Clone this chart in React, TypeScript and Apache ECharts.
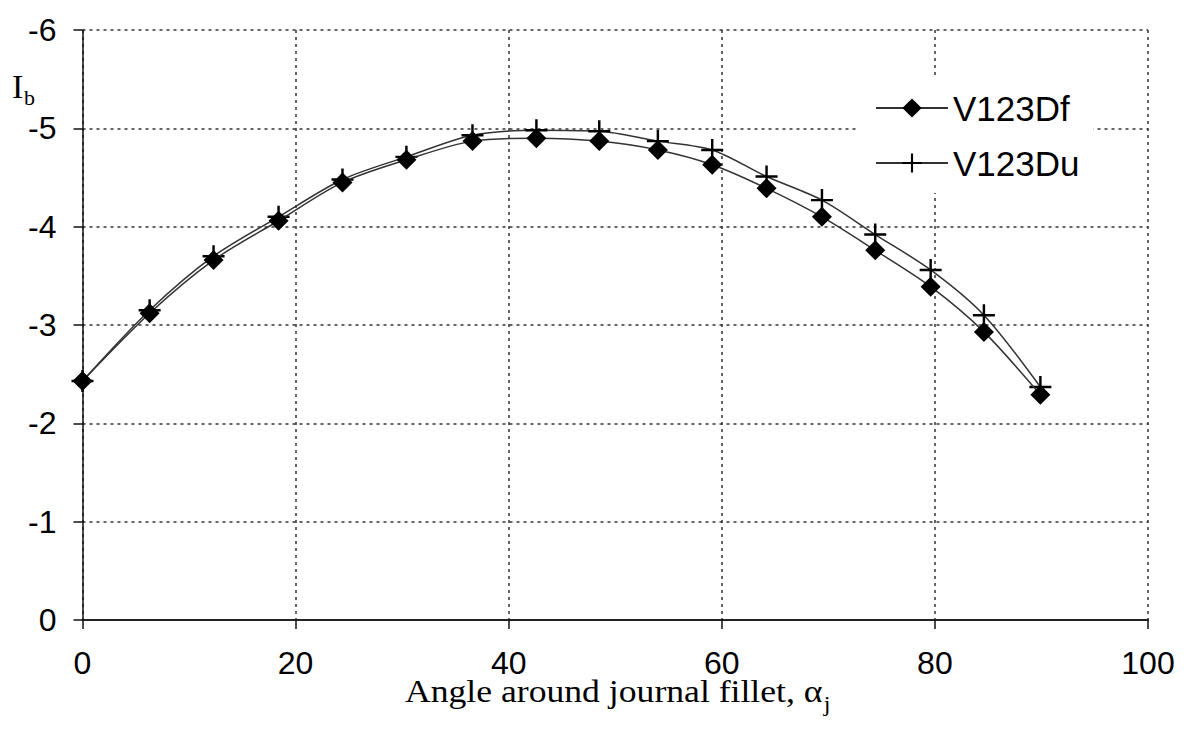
import React, { useEffect, useRef } from "react";
import * as echarts from "echarts";

const angles = [0, 6.3, 12.3, 18.4, 24.4, 30.4, 36.6, 42.6, 48.5, 54, 59.1, 64.2, 69.4, 74.4, 79.6, 84.6, 89.9];
const v123Df = [-2.43, -3.12, -3.66, -4.06, -4.45, -4.68, -4.87, -4.9, -4.87, -4.78, -4.63, -4.39, -4.1, -3.76, -3.39, -2.93, -2.29];
const v123Du = [-2.43, -3.15, -3.7, -4.1, -4.48, -4.71, -4.93, -4.98, -4.97, -4.87, -4.78, -4.51, -4.27, -3.92, -3.56, -3.1, -2.37];
const seriesNames = ["V123Df", "V123Du"];
const xTitle = "Angle around journal fillet, α";
const xTitleSub = "j";
const yTitle = "I";
const yTitleSub = "b";

const PLUS = "path://M8,0H10V8H18V10H10V18H8V10H0V8H8Z";

function measure(text: string, font: string): number {
  const c = document.createElement("canvas").getContext("2d");
  if (!c) return text.length * 12;
  c.font = font;
  return c.measureText(text).width;
}

export default function App() {
  const ref = useRef<HTMLDivElement>(null);
  useEffect(() => {
    document.body.style.margin = "0";
    if (!ref.current) return;
    const chart = echarts.init(ref.current, undefined, { renderer: "svg" });
    const serif = "Liberation Serif";
    const sans = "Liberation Sans";
    const titleFs = 31;
    const titleW = measure(xTitle, `${titleFs}px "${serif}"`);
    const stretch = 1.15;
    const titleX = 405;
    const titleY = 707;
    chart.setOption({
      animation: false,
      backgroundColor: "#ffffff",
      grid: { left: 82.5, right: 39, top: 30, bottom: 114, containLabel: false },
      xAxis: {
        type: "value",
        min: 0,
        max: 100,
        interval: 20,
        axisLine: { show: true, onZero: false, lineStyle: { color: "#222", width: 2 } },
        axisTick: { show: true, length: 9, lineStyle: { color: "#111", width: 1.5 } },
        axisLabel: { color: "#000", fontSize: 32, fontFamily: sans, margin: 27 },
        splitLine: { show: true, lineStyle: { color: "#333", width: 1.5, type: [3, 4] } },
      },
      yAxis: {
        type: "value",
        min: -6,
        max: 0,
        interval: 1,
        inverse: true,
        axisLine: { show: true, onZero: false, lineStyle: { color: "#111", width: 1.5 } },
        axisTick: { show: true, length: 9, lineStyle: { color: "#111", width: 1.5 } },
        axisLabel: { color: "#000", fontSize: 32, fontFamily: sans, margin: 26 },
        splitLine: { show: true, lineStyle: { color: "#333", width: 1.5, type: [3, 4] } },
      },
      legend: {
        orient: "vertical",
        left: 857,
        top: 75,
        backgroundColor: "#ffffff",
        padding: [15, 14, 12, 18],
        itemGap: 19,
        itemWidth: 72,
        itemHeight: 24,
        textStyle: { color: "#000", fontSize: 35, fontFamily: sans, lineHeight: 36 },
        data: seriesNames,
      },
      series: [
        {
          name: seriesNames[0],
          type: "line",
          data: angles.map((a, i) => [a, v123Df[i]]),
          smooth: 0.3,
          symbol: "diamond",
          symbolSize: 20,
          itemStyle: { color: "#000" },
          lineStyle: { color: "#333", width: 1.5 },
          z: 3,
        },
        {
          name: seriesNames[1],
          type: "line",
          data: angles.map((a, i) => [a, v123Du[i]]),
          smooth: 0.3,
          symbol: PLUS,
          symbolSize: 22,
          itemStyle: { color: "#000" },
          lineStyle: { color: "#333", width: 1.5 },
          z: 2,
        },
      ],
      graphic: [
        {
          type: "group",
          x: titleX,
          y: titleY,
          scaleX: stretch,
          children: [
            {
              type: "text",
              x: 0,
              y: 0,
              style: { text: xTitle, fontSize: titleFs, fontFamily: serif, fill: "#000", verticalAlign: "bottom" },
            },
            {
              type: "text",
              x: titleW + 1,
              y: 8,
              style: { text: xTitleSub, fontSize: 21, fontFamily: serif, fill: "#000", verticalAlign: "bottom" },
            },
          ],
        },
        {
          type: "text",
          x: 12,
          y: 103,
          style: { text: yTitle, fontSize: 34, fontFamily: serif, fill: "#000", verticalAlign: "bottom" },
        },
        {
          type: "text",
          x: 24,
          y: 108,
          style: { text: yTitleSub, fontSize: 22, fontFamily: serif, fill: "#000", verticalAlign: "bottom" },
        },
      ],
    });
    return () => chart.dispose();
  }, []);
  return <div ref={ref} style={{ position: "fixed", left: 0, top: 0, width: 1187, height: 734 }} />;
}
